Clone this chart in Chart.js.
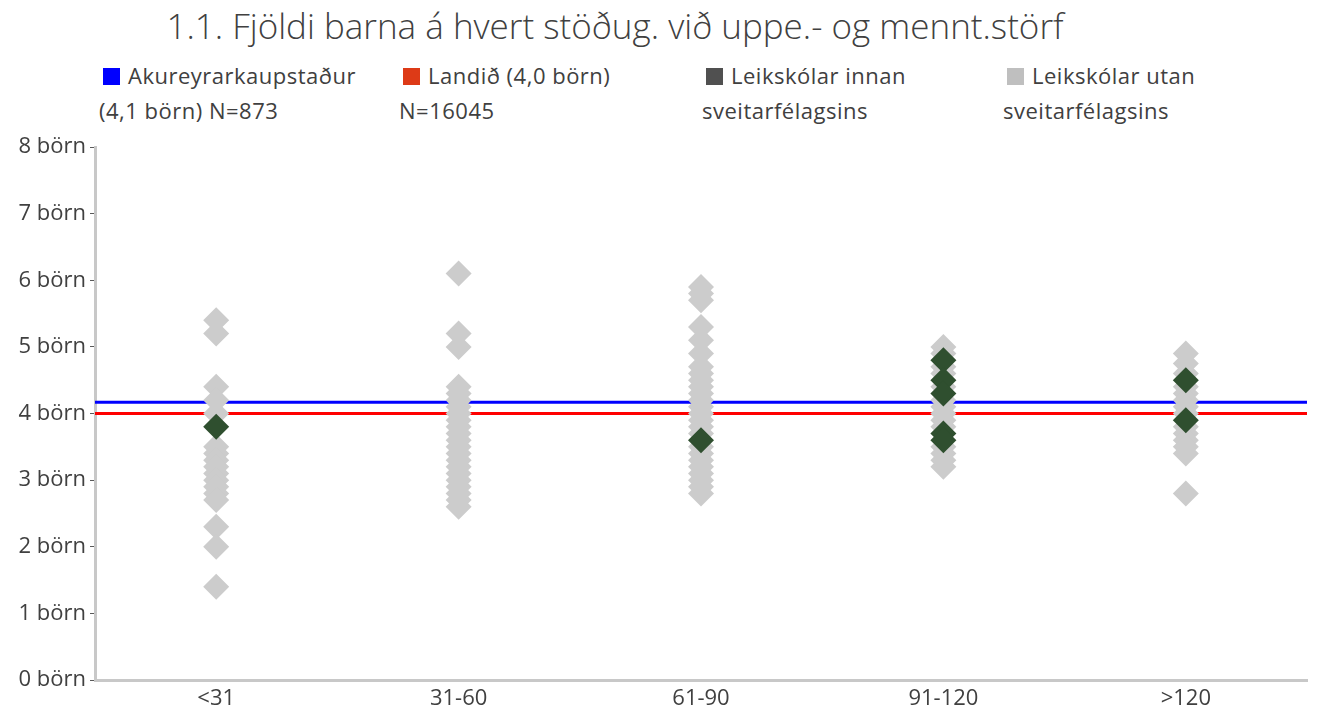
<!DOCTYPE html>
<html>
<head>
<meta charset="utf-8">
<script src="https://cdn.jsdelivr.net/npm/chart.js@4"></script>
<style>
    html, body { margin: 0; padding: 0; background: #fff; }
    body { width: 1320px; height: 711px; position: relative; overflow: hidden; font-family: "Open Sans", sans-serif; color: #404040; }
    #title { position: absolute; left: 0; width: 1230px; top: 2px; text-align: center; font-size: 35px; font-weight: 300; }
    #legend { position: absolute; top: 58px; left: 0; }
    .item { position: absolute; width: 290px; font-size: 22px; line-height: 35px; letter-spacing: 0.5px; white-space: nowrap; }
    .box { display: inline-block; width: 17px; height: 17px; margin: 0 8px 0 4px; vertical-align: -1px; }
    #wrap { position: absolute; left: 0; top: 0; width: 1320px; height: 711px; }
</style>
</head>
<body>
<div id="title">1.1. Fjöldi barna á hvert stöðug. við uppe.- og mennt.störf</div>
<div id="legend"></div>
<div id="wrap"><canvas id="scatterChart"></canvas></div>
<script>
const categories = ['<31', '31-60', '61-90', '91-120', '>120'];

// Leikskólar utan sveitarfélagsins
const utanLt31 = [5.4, 5.2, 4.4, 4.2, 4.0, 3.5, 3.4, 3.3, 3.2, 3.1, 3.0, 2.9, 2.8, 2.7, 2.3, 2.0, 1.4];
const utan31to60 = [6.1, 5.2, 5.0, 4.4, 4.3, 4.2, 4.1, 4.0, 3.9, 3.8, 3.7, 3.6, 3.5, 3.4, 3.3, 3.2, 3.1, 3.0, 2.9, 2.8, 2.7, 2.6];
const utan61to90 = [5.9, 5.8, 5.7, 5.3, 5.1, 4.9, 4.7, 4.6, 4.5, 4.4, 4.3, 4.2, 4.1, 4.0, 3.9, 3.8, 3.7, 3.5, 3.4, 3.3, 3.2, 3.1, 3.0, 2.9, 2.8];
const utan91to120 = [5.0, 4.9, 4.7, 4.6, 4.4, 4.2, 4.1, 4.0, 3.9, 3.8, 3.5, 3.4, 3.3, 3.2];
const utanGt120 = [4.9, 4.75, 4.6, 4.4, 4.3, 4.2, 4.1, 4.0, 3.8, 3.7, 3.6, 3.5, 3.4, 2.8];

// Leikskólar innan sveitarfélagsins
const innanLt31 = [3.8];
const innan31to60 = [];
const innan61to90 = [3.6];
const innan91to120 = [4.8, 4.5, 4.3, 3.7, 3.6];
const innanGt120 = [4.5, 3.9];

const akureyriAvg = 4.17;
const landidAvg = 4.0;

const yTicks = [0, 1, 2, 3, 4, 5, 6, 7, 8];

const legendLabels = [
    ['Akureyrarkaupstaður', '(4,1 börn) N=873'],
    ['Landið (4,0 börn)', 'N=16045'],
    ['Leikskólar innan', 'sveitarfélagsins'],
    ['Leikskólar utan', 'sveitarfélagsins']
];
const legendColors = ['#0000ff', '#dd3a17', '#505050', '#bfbfbf'];
const legendLeft = [99, 399, 702, 1003];

function toPoints(lists) {
    const pts = [];
    lists.forEach((vals, i) => vals.forEach(v => pts.push({ x: i, y: v })));
    return pts;
}

function hLine(v) {
    return [{ x: -0.5, y: v }, { x: categories.length - 0.5, y: v }];
}

// legend
const legendEl = document.getElementById('legend');
legendLabels.forEach((lines, i) => {
    const div = document.createElement('div');
    div.className = 'item';
    div.style.left = legendLeft[i] + 'px';
    div.innerHTML = '<span class="box" style="background:' + legendColors[i] + '"></span>' + lines[0] + '<br>' + lines[1];
    legendEl.appendChild(div);
});

const ctx = document.getElementById('scatterChart').getContext('2d');
new Chart(ctx, {
    type: 'scatter',
    data: {
        datasets: [
            {
                label: legendLabels[2].join(' '),
                data: toPoints([innanLt31, innan31to60, innan61to90, innan91to120, innanGt120]),
                backgroundColor: '#2f4f2f',
                borderWidth: 0,
                pointStyle: 'rectRot',
                pointRadius: 13,
                order: 1
            },
            {
                label: legendLabels[3].join(' '),
                data: toPoints([utanLt31, utan31to60, utan61to90, utan91to120, utanGt120]),
                backgroundColor: '#cccccc',
                borderWidth: 0,
                pointStyle: 'rectRot',
                pointRadius: 13,
                order: 2
            },
            {
                label: legendLabels[0].join(' '),
                type: 'line',
                data: hLine(akureyriAvg),
                borderColor: '#0000ff',
                borderWidth: 3,
                pointRadius: 0,
                fill: false,
                order: 3
            },
            {
                label: legendLabels[1].join(' '),
                type: 'line',
                data: hLine(landidAvg),
                borderColor: '#ff0000',
                borderWidth: 3,
                pointRadius: 0,
                fill: false,
                order: 3
            }
        ]
    },
    options: {
        responsive: true,
        maintainAspectRatio: false,
        animation: false,
        layout: { padding: { top: 147, right: 10, left: 0, bottom: 0 } },
        plugins: { legend: { display: false }, tooltip: { enabled: false } },
        scales: {
            x: {
                type: 'linear',
                min: -0.5,
                max: categories.length - 0.5,
                afterBuildTicks: s => { s.ticks = categories.map((c, i) => ({ value: i })); },
                afterFit: s => { s.height = 31; },
                grid: { display: false, drawTicks: false },
                border: { display: true, color: '#c8c8c8', width: 3 },
                ticks: {
                    callback: v => categories[v],
                    color: '#404040',
                    font: { family: 'Open Sans', size: 22 },
                    padding: 6
                }
            },
            y: {
                min: 0,
                max: 8,
                afterBuildTicks: s => { s.ticks = yTicks.map(v => ({ value: v })); },
                afterFit: s => { s.width = 95; },
                grid: { drawOnChartArea: false, drawTicks: true, tickLength: 5, color: '#595959', tickWidth: 1 },
                border: { display: true, color: '#c8c8c8', width: 3 },
                ticks: {
                    callback: v => v + ' börn',
                    color: '#404040',
                    font: { family: 'Open Sans', size: 22 },
                    padding: 4
                }
            }
        }
    }
});
</script>
</body>
</html>
